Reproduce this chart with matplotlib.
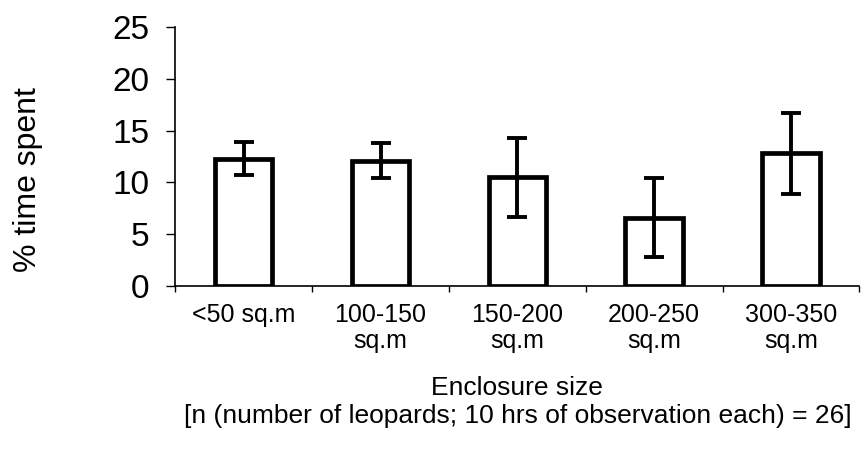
import numpy as np
import matplotlib.pyplot as plt

plt.rcParams['font.family'] = ['Liberation Sans', 'DejaVu Sans']

# 囲いの大きさ別の滞在時間
categories = ['<50 sq.m', '100-150\nsq.m', '150-200\nsq.m', '200-250\nsq.m', '300-350\nsq.m']
time_spent = [12.3, 12.1, 10.5, 6.6, 12.8]
errors = [1.6, 1.7, 3.8, 3.8, 3.9]

fig = plt.figure(figsize=(8.68, 4.65), dpi=100)
ax = fig.add_axes([0.202, 0.385, 0.788, 0.557])

x = np.arange(len(categories))
ax.bar(x, time_spent, width=0.42, facecolor='white', edgecolor='black',
       linewidth=3.4, yerr=errors, capsize=7,
       error_kw=dict(elinewidth=2.8, capthick=2.8, ecolor='black'))

ax.set_xlim(-0.5, len(categories) - 0.5)
ax.set_ylim(0, 25)
ax.set_yticks(range(0, 26, 5))
ax.tick_params(axis='y', labelsize=24, length=6.5, pad=12, width=1)

ax.set_xticks(x)
ax.set_xticklabels(categories, fontsize=18, multialignment='center',
                   linespacing=1.15)
ax.set_xticks(np.arange(-0.5, len(categories), 1), minor=True)
ax.tick_params(axis='x', which='major', length=0, pad=12)
ax.tick_params(axis='x', which='minor', length=4, width=1)

for s in ['top', 'right']:
    ax.spines[s].set_visible(False)
ax.spines['left'].set_linewidth(1.2)
ax.spines['bottom'].set_linewidth(1.2)

ax.set_ylabel('% time spent', fontsize=23)
ax.yaxis.set_label_coords(-0.193, 0.41)
ax.set_xlabel('Enclosure size\n[n (number of leopards; 10 hrs of observation each) = 26]',
              fontsize=19, labelpad=16, linespacing=1.2)

fig.savefig('out.png', dpi=100)
